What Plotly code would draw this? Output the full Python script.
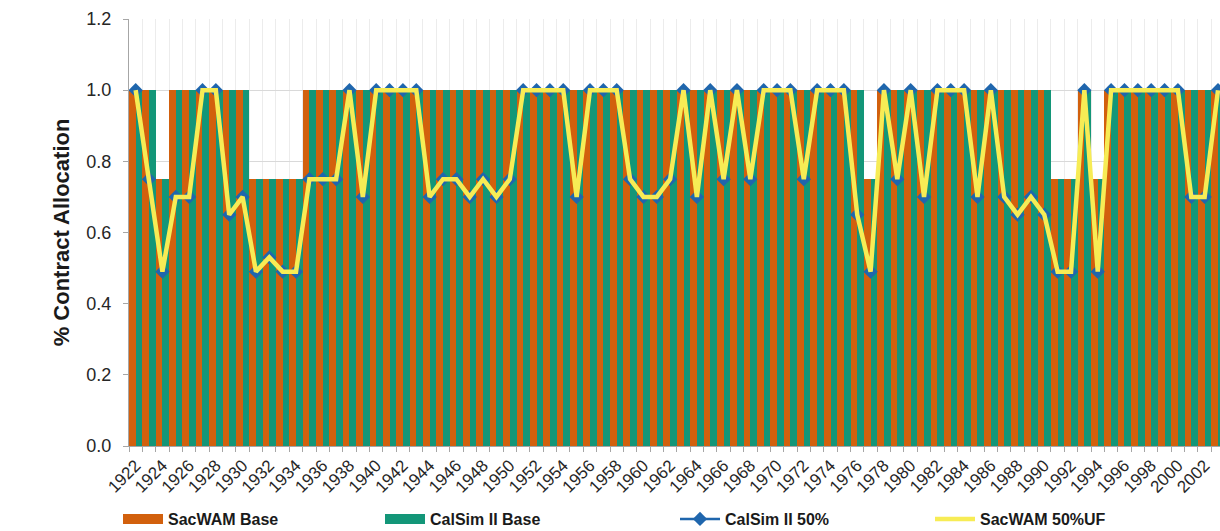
import plotly.graph_objects as go

# ---------------- data ----------------
years = list(range(1922, 2004))

sacwam_base = [
    1.0, 1.0, 0.75, 1.0, 1.0, 1.0, 1.0, 1.0, 1.0, 0.75,   # 1922-1931
    0.75, 0.75, 0.75, 1.0, 1.0, 1.0, 1.0, 1.0, 1.0, 1.0,  # 1932-1941
    1.0, 1.0, 1.0, 1.0, 1.0, 1.0, 1.0, 1.0, 1.0, 1.0,     # 1942-1951
    1.0, 1.0, 1.0, 1.0, 1.0, 1.0, 1.0, 1.0, 1.0, 1.0,     # 1952-1961
    1.0, 1.0, 1.0, 1.0, 1.0, 1.0, 1.0, 1.0, 1.0, 1.0,     # 1962-1971
    1.0, 1.0, 1.0, 1.0, 1.0, 0.75, 1.0, 1.0, 1.0, 1.0,    # 1972-1981
    1.0, 1.0, 1.0, 1.0, 1.0, 1.0, 1.0, 1.0, 1.0, 0.75,    # 1982-1991
    0.75, 1.0, 0.75, 1.0, 1.0, 1.0, 1.0, 1.0, 1.0, 1.0,   # 1992-2001
    1.0, 1.0,                                              # 2002-2003
]

calsim_base = [
    1.0, 1.0, 0.75, 1.0, 1.0, 1.0, 1.0, 1.0, 1.0, 0.75,
    0.75, 0.75, 0.75, 1.0, 1.0, 1.0, 1.0, 1.0, 1.0, 1.0,
    1.0, 1.0, 1.0, 1.0, 1.0, 1.0, 1.0, 1.0, 1.0, 1.0,
    1.0, 1.0, 1.0, 1.0, 1.0, 1.0, 1.0, 1.0, 1.0, 1.0,
    1.0, 1.0, 1.0, 1.0, 1.0, 1.0, 1.0, 1.0, 1.0, 1.0,
    1.0, 1.0, 1.0, 1.0, 1.0, 0.75, 1.0, 1.0, 1.0, 1.0,
    1.0, 1.0, 1.0, 1.0, 1.0, 1.0, 1.0, 1.0, 1.0, 0.75,
    0.75, 1.0, 0.75, 1.0, 1.0, 1.0, 1.0, 1.0, 1.0, 1.0,
    1.0, 1.0,
]

calsim_50 = [
    1.0, 0.75, 0.49, 0.70, 0.70, 1.0, 1.0, 0.65, 0.70, 0.49,   # 1922-1931
    0.53, 0.49, 0.49, 0.75, 0.75, 0.75, 1.0, 0.70, 1.0, 1.0,   # 1932-1941
    1.0, 1.0, 0.70, 0.75, 0.75, 0.70, 0.75, 0.70, 0.75, 1.0,   # 1942-1951
    1.0, 1.0, 1.0, 0.70, 1.0, 1.0, 1.0, 0.75, 0.70, 0.70,      # 1952-1961
    0.75, 1.0, 0.70, 1.0, 0.75, 1.0, 0.75, 1.0, 1.0, 1.0,      # 1962-1971
    0.75, 1.0, 1.0, 1.0, 0.65, 0.49, 1.0, 0.75, 1.0, 0.70,     # 1972-1981
    1.0, 1.0, 1.0, 0.70, 1.0, 0.70, 0.65, 0.70, 0.65, 0.49,    # 1982-1991
    0.49, 1.0, 0.49, 1.0, 1.0, 1.0, 1.0, 1.0, 1.0, 0.70,       # 1992-2001
    0.70, 1.0,                                                  # 2002-2003
]

sacwam_50uf = [
    1.0, 0.75, 0.49, 0.70, 0.70, 1.0, 1.0, 0.65, 0.70, 0.49,
    0.53, 0.49, 0.49, 0.75, 0.75, 0.75, 1.0, 0.70, 1.0, 1.0,
    1.0, 1.0, 0.70, 0.75, 0.75, 0.70, 0.75, 0.70, 0.75, 1.0,
    1.0, 1.0, 1.0, 0.70, 1.0, 1.0, 1.0, 0.75, 0.70, 0.70,
    0.75, 1.0, 0.70, 1.0, 0.75, 1.0, 0.75, 1.0, 1.0, 1.0,
    0.75, 1.0, 1.0, 1.0, 0.65, 0.49, 1.0, 0.75, 1.0, 0.70,
    1.0, 1.0, 1.0, 0.70, 1.0, 0.70, 0.65, 0.70, 0.65, 0.49,
    0.49, 1.0, 0.49, 1.0, 1.0, 1.0, 1.0, 1.0, 1.0, 0.70,
    0.70, 1.0,
]

tick_years = list(range(1922, 2003, 2))
tick_labels = [str(y) for y in tick_years]

series_names = ["SacWAM Base", "CalSim II Base", "CalSim II 50%", "SacWAM 50%UF"]

# ---------------- style ----------------
ORANGE = "#d2600d"
GREEN = "#139678"
BLUE = "#1f66ad"
YELLOW = "#f7ec55"
FONT = "Arial, Liberation Sans, sans-serif"

W, H = 1220, 531
ML, MR, MT, MB = 129, 0, 19, 85
plot_w = W - ML - MR

def px_to_paper_x(px):
    return (px - ML) / plot_w

def px_to_container_y(py):
    return (H - py) / H

fig = go.Figure()

fig.add_trace(go.Bar(x=years, y=sacwam_base, name=series_names[0],
                     marker=dict(color=ORANGE, line=dict(width=0)),
                     showlegend=False))
fig.add_trace(go.Bar(x=years, y=calsim_base, name=series_names[1],
                     marker=dict(color=GREEN, line=dict(width=0)),
                     showlegend=False))
fig.add_trace(go.Scatter(x=years, y=calsim_50, name=series_names[2],
                         mode="lines+markers",
                         line=dict(color=BLUE, width=2.5),
                         marker=dict(symbol="diamond", size=11, color=BLUE),
                         legend="legend3"))
fig.add_trace(go.Scatter(x=years, y=sacwam_50uf, name=series_names[3],
                         mode="lines",
                         line=dict(color=YELLOW, width=4.5),
                         legend="legend4"))

# legend-only swatches for the bar series (wide rectangles like the original)
fig.add_trace(go.Scatter(x=[None], y=[None], name=series_names[0], mode="lines",
                         line=dict(color=ORANGE, width=10), legend="legend"))
fig.add_trace(go.Scatter(x=[None], y=[None], name=series_names[1], mode="lines",
                         line=dict(color=GREEN, width=10), legend="legend2"))

leg_y = px_to_container_y(519)
leg_common = dict(orientation="h", yanchor="middle", xanchor="left",
                  yref="container",
                  font=dict(family=FONT, size=16, color="#1a1a1a", weight="bold"),
                  bgcolor="rgba(0,0,0,0)", itemwidth=40)

fig.update_layout(
    width=W, height=H,
    margin=dict(l=ML, r=MR, t=MT, b=MB, pad=0, autoexpand=False),
    paper_bgcolor="white", plot_bgcolor="white",
    barmode="group", bargap=0, bargroupgap=0,
    font=dict(family=FONT, color="#262626"),
    legend=dict(x=px_to_paper_x(118), y=leg_y, **leg_common),
    legend2=dict(x=px_to_paper_x(380), y=leg_y, **leg_common),
    legend3=dict(x=px_to_paper_x(675), y=leg_y, **leg_common),
    legend4=dict(x=px_to_paper_x(930), y=leg_y, **leg_common),
    xaxis=dict(
        range=[1921.5, 2003.15],
        automargin=False,
        tickmode="array", tickvals=tick_years, ticktext=tick_labels,
        tickangle=-45, ticks="", showgrid=False,
        tickfont=dict(family=FONT, size=17, color="#262626"),
        ticklabelstandoff=2,
        showline=True, linecolor="#a6a6a6", linewidth=1,
        minor=dict(tick0=1921.5, dtick=1, ticks="outside", ticklen=5,
                   tickcolor="#a6a6a6", showgrid=True, gridcolor="#ececec",
                   gridwidth=1),
        zeroline=False,
    ),
    yaxis=dict(
        range=[0, 1.2], tickmode="linear", tick0=0, dtick=0.2,
        automargin=False,
        tickformat=".1f",
        tickfont=dict(family=FONT, size=18, color="#262626"),
        ticklabelstandoff=8,
        ticks="outside", ticklen=5, tickcolor="#a6a6a6",
        showline=True, linecolor="#a6a6a6", linewidth=1,
        showgrid=True, gridcolor="#d9d9d9", gridwidth=1,
        zeroline=False,
        title=dict(text="% Contract Allocation", standoff=10,
                   font=dict(family=FONT, size=22, color="#1a1a1a", weight="bold")),
    ),
)

fig.write_html("out.html")
